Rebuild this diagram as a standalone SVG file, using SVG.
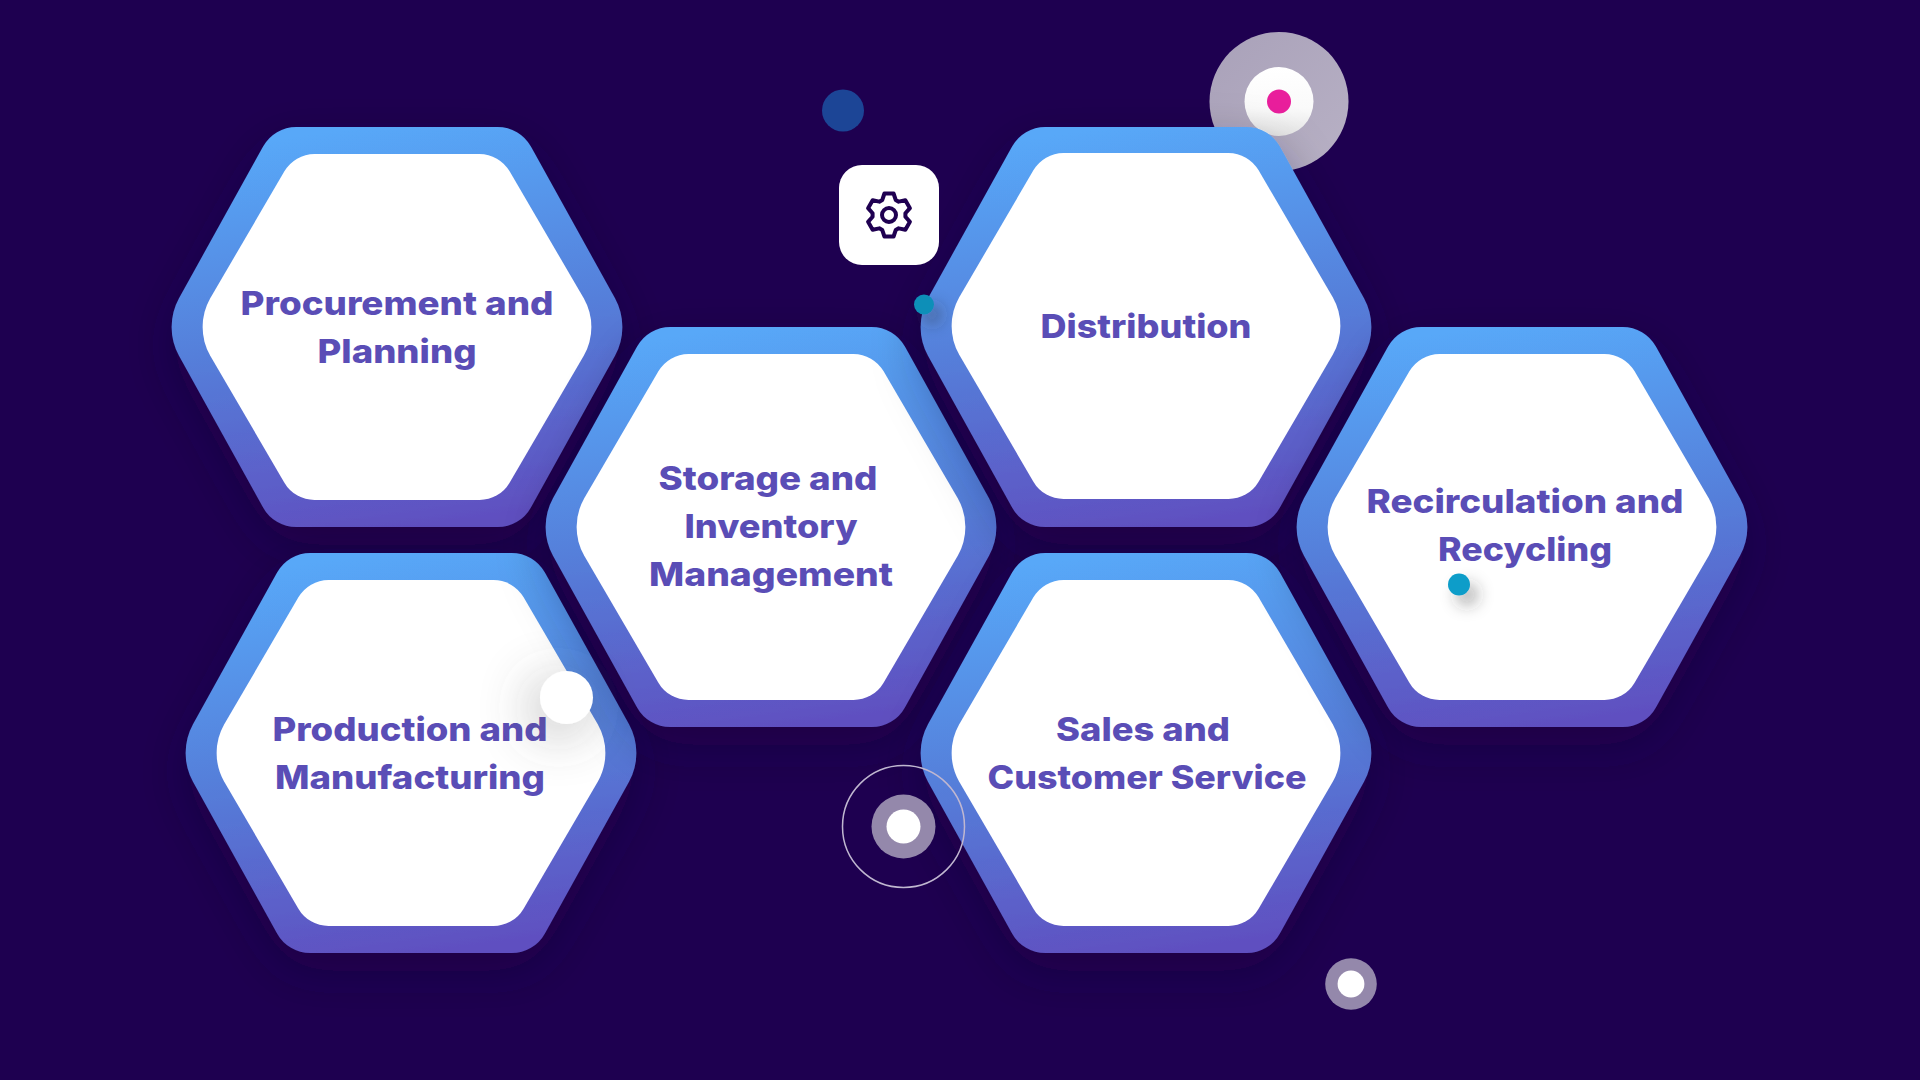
<svg xmlns="http://www.w3.org/2000/svg" width="1920" height="1080" viewBox="0 0 1920 1080">
<style>
.t{font-family:"Inter","Liberation Sans",sans-serif;font-weight:800;font-size:33px;fill:#5a4db6;text-anchor:middle}
.ring{fill:#9488ab}
.w{fill:#fff}
</style>
<defs>
<linearGradient id="hexg" x1="0.42" y1="0" x2="0.58" y2="1">
<stop offset="0" stop-color="#58a8f8"/>
<stop offset="0.5" stop-color="#557fda"/>
<stop offset="1" stop-color="#5f4fc0"/>
</linearGradient>
<linearGradient id="innerg" x1="0" y1="0" x2="0" y2="1">
<stop offset="0" stop-color="#fff"/><stop offset="0.6" stop-color="#fafafa"/><stop offset="1" stop-color="#e6e6e6"/>
</linearGradient>
<linearGradient id="lilac" x1="0" y1="0" x2="1" y2="1">
<stop offset="0" stop-color="#a9a1b9"/><stop offset="1" stop-color="#b8b1c5"/>
</linearGradient>
<filter id="hs" x="-30%" y="-30%" width="160%" height="170%"><feDropShadow dx="0" dy="18" stdDeviation="24" flood-color="#120035" flood-opacity="0.35"/></filter>
<filter id="ds" x="-200%" y="-200%" width="500%" height="500%"><feDropShadow dx="8" dy="10" stdDeviation="8" flood-color="#333" flood-opacity="0.38"/></filter>
<filter id="ws" x="-300%" y="-300%" width="700%" height="700%"><feDropShadow dx="-8" dy="10" stdDeviation="26" flood-color="#555" flood-opacity="0.42"/></filter>
<path id="outer" fill="url(#hexg)" d="M-100.6-200L100.6-200A38 38 0 0 1 133.9-180.4L218-28.8A60 60 0 0 1 218 28.8L133.9 180.4A38 38 0 0 1 100.6 200L-100.6 200A38 38 0 0 1-133.9 180.4L-218 28.8A60 60 0 0 1-218-28.8L-133.9-180.4A38 38 0 0 1-100.6-200Z"/>
<path id="inner" fill="#fff" d="M-82.5-173L82.5-173A35 35 0 0 1 112.6-155.7L186.9-28.5A58 58 0 0 1 186.9 28.5L112.6 155.7A35 35 0 0 1 82.5 173L-82.5 173A35 35 0 0 1-112.6 155.7L-186.9 28.5A58 58 0 0 1-186.9-28.5L-112.6-155.7A35 35 0 0 1-82.5-173Z"/>
<g id="hex"><use href="#outer" filter="url(#hs)"/><use href="#inner"/></g>
</defs>
<rect width="1920" height="1080" fill="#1e0050"/>
<g id="decor-back">
<circle cx="1279" cy="101.5" r="69.5" fill="url(#lilac)"/>
<circle cx="1279" cy="101.5" r="34.5" fill="url(#innerg)"/>
<circle cx="1279" cy="101.5" r="12" fill="#e91e9c"/>
<circle cx="843" cy="110.5" r="21" fill="#1c4596"/>
</g>
<g id="node-procurement" transform="translate(397 327)"><use href="#hex"/>
<text class="t" x="0" y="-12" textLength="313" lengthAdjust="spacingAndGlyphs">Procurement and</text>
<text class="t" x="0" y="36" textLength="159" lengthAdjust="spacingAndGlyphs">Planning</text></g>
<g id="node-production" transform="translate(411 753)"><use href="#hex"/>
<text class="t" x="-1" y="-12" textLength="275" lengthAdjust="spacingAndGlyphs">Production and</text>
<text class="t" x="-1" y="36" textLength="270" lengthAdjust="spacingAndGlyphs">Manufacturing</text></g>
<g id="node-storage" transform="translate(771 527)"><use href="#hex"/>
<text class="t" x="-3" y="-37" textLength="219" lengthAdjust="spacingAndGlyphs">Storage and</text>
<text class="t" x="0" y="11" textLength="173" lengthAdjust="spacingAndGlyphs">Inventory</text>
<text class="t" x="0" y="59" textLength="244" lengthAdjust="spacingAndGlyphs">Management</text></g>
<g id="node-distribution" transform="translate(1146 327)"><use href="#outer" filter="url(#hs)"/><use href="#inner" y="-1"/>
<text class="t" x="0" y="11" textLength="211" lengthAdjust="spacingAndGlyphs">Distribution</text></g>
<g id="node-sales" transform="translate(1146 753)"><use href="#hex"/>
<text class="t" x="-3" y="-12" textLength="174" lengthAdjust="spacingAndGlyphs">Sales and</text>
<text class="t" x="1" y="36" textLength="319" lengthAdjust="spacingAndGlyphs">Customer Service</text></g>
<g id="node-recirculation" transform="translate(1522 527)"><use href="#hex"/>
<text class="t" x="3" y="-14" textLength="317" lengthAdjust="spacingAndGlyphs">Recirculation and</text>
<text class="t" x="3" y="34" textLength="174" lengthAdjust="spacingAndGlyphs">Recycling</text></g>
<g id="connectors"></g>
<g id="decor-front">
<rect x="839" y="165" width="100" height="100" rx="23" fill="#fff"/>
<g transform="translate(889 215)" fill="none" stroke="#1f0051" stroke-width="4" stroke-linejoin="round">
<path d="M-4.57-21.5L4.57-21.5L6.71-15.07L9.7-13.35L16.35-14.72L20.92-6.8L16.41-1.72L16.41 1.72L20.92 6.8L16.35 14.72L9.7 13.35L6.71 15.07L4.57 21.5L-4.57 21.5L-6.71 15.07L-9.7 13.35L-16.35 14.72L-20.92 6.8L-16.41 1.72L-16.41-1.72L-20.92-6.8L-16.35-14.72L-9.7-13.35L-6.71-15.07Z"/>
<circle r="7"/>
</g>
<circle cx="924" cy="304.5" r="10" fill="#0e8fb8" filter="url(#ds)"/>
<circle cx="1459" cy="584.5" r="11" fill="#0a9dc9" filter="url(#ds)"/>
<circle cx="566.5" cy="697.5" r="26.5" class="w" filter="url(#ws)"/>
<circle cx="903.5" cy="826.5" r="61" fill="none" stroke="#c0b7d0" stroke-width="1.5"/>
<circle cx="903.5" cy="826.5" r="32" class="ring"/>
<circle cx="903.5" cy="826.5" r="17" class="w"/>
<circle cx="1351" cy="984" r="25.8" class="ring"/>
<circle cx="1351" cy="984" r="13.4" class="w"/>
</g>
</svg>
